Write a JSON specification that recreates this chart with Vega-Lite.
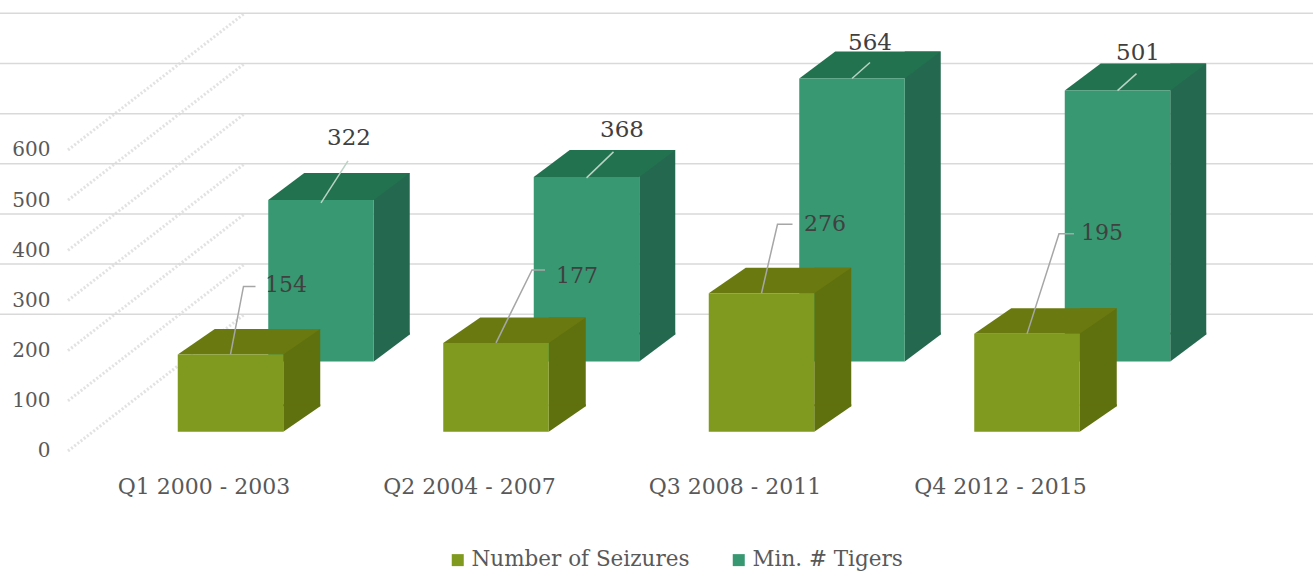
{
"$schema":"https://vega.github.io/schema/vega-lite/v6.json",
"width":1313,"height":575,"autosize":{"type":"none"},"padding":0,"background":"#ffffff",
"config":{"view":{"stroke":null},"font":"DejaVu Serif"},
"datasets":{
"rows":[
{"quarter":"Q1 2000 - 2003","series":"Number of Seizures","value":154,"label":"154"},
{"quarter":"Q2 2004 - 2007","series":"Number of Seizures","value":177,"label":"177"},
{"quarter":"Q3 2008 - 2011","series":"Number of Seizures","value":276,"label":"276"},
{"quarter":"Q4 2012 - 2015","series":"Number of Seizures","value":195,"label":"195"},
{"quarter":"Q1 2000 - 2003","series":"Min. # Tigers","value":322,"label":"322"},
{"quarter":"Q2 2004 - 2007","series":"Min. # Tigers","value":368,"label":"368"},
{"quarter":"Q3 2008 - 2011","series":"Min. # Tigers","value":564,"label":"564"},
{"quarter":"Q4 2012 - 2015","series":"Min. # Tigers","value":540,"label":"501"}
],
"ticks":[{"tick":0},{"tick":100},{"tick":200},{"tick":300},{"tick":400},{"tick":500},{"tick":600}]
},
"layer":[
{"data":{"name":"ticks"},
 "mark":{"type":"point","shape":"M-588.5 0L-411.5 -137","filled":false,"size":4,"stroke":"#dcdcdc","strokeWidth":3,"strokeDash":[2,2],"opacity":0.8},
 "encoding":{"y":{"field":"tick","type":"quantitative","scale":{"domain":[-247.2,899],"range":[575,0],"zero":false,"nice":false},
   "axis":{"title":null,"orient":"left","offset":-50,"values":[0,100,200,300,400,500,600],"domain":false,"ticks":false,"grid":false,"labelPadding":0,"labelFont":"DejaVu Serif","labelFontSize":20,"labelColor":"#595959"}}}},
{"data":{"name":"ticks"},
 "mark":{"type":"rule","xOffset":246,"yOffset":-136.7,"stroke":"#d9d9d9","strokeWidth":1.5},
 "encoding":{"y":{"field":"tick","type":"quantitative","scale":{"domain":[-247.2,899],"range":[575,0],"zero":false,"nice":false},
   "axis":{"title":null,"orient":"left","offset":-50,"values":[0,100,200,300,400,500,600],"domain":false,"ticks":false,"grid":false,"labelPadding":0,"labelFont":"DejaVu Serif","labelFontSize":20,"labelColor":"#595959"}}}},
{"data":{"name":"rows"},
 "encoding":{
  "x":{"field":"quarter","type":"nominal","sort":null,"scale":{"domain":["Q1 2000 - 2003","Q2 2004 - 2007","Q3 2008 - 2011","Q4 2012 - 2015"],"range":[71.25,1133.25],"paddingInner":0,"paddingOuter":0},
    "axis":{"title":null,"orient":"bottom","offset":-100,"domain":false,"ticks":false,"grid":false,"labelAngle":0,"labelBaseline":"middle","labelPadding":11,"labelFont":"DejaVu Serif","labelFontSize":22,"labelColor":"#595959"}},
  "y":{"field":"value","type":"quantitative","stack":null,"scale":{"domain":[-247.2,899],"range":[575,0],"zero":false,"nice":false},
    "axis":{"title":null,"orient":"left","offset":-50,"values":[0,100,200,300,400,500,600],"domain":false,"ticks":false,"grid":false,"labelPadding":0,"labelFont":"DejaVu Serif","labelFontSize":20,"labelColor":"#595959"}}
 },
 "layer":[
  {"transform":[{"filter":"datum.label=='564'"}],"mark":{"type":"text","dx":135,"dy":-125,"font":"DejaVu Serif","fontSize":23,"fill":"#404040","baseline":"middle"},"encoding":{"text":{"field":"label"}}},
  {"transform":[{"filter":"datum.label=='501'"}],"mark":{"type":"text","dx":137.5,"dy":-127,"font":"DejaVu Serif","fontSize":23,"fill":"#404040","baseline":"middle"},"encoding":{"text":{"field":"label"}}},

  {"transform":[{"filter":"datum.series=='Min. # Tigers'"}],"mark":{"type":"bar","width":36,"xOffset":187.75,"yOffset":-116.5,"y2Offset":-116.5,"fill":"#24694f"},"encoding":{"y2":{"datum":0}}},
  {"transform":[{"filter":"datum.series=='Min. # Tigers'"}],"mark":{"type":"point","shape":"M52.75 0L88.75 -27L88.75 -29L52.75 -29Z","filled":true,"size":4,"opacity":1,"strokeWidth":0,"fill":"#24694f","xOffset":117,"yOffset":-89.5},"encoding":{"y":{"datum":0,"title":null,"axis":{"title":null,"orient":"left","offset":-50,"values":[0,100,200,300,400,500,600],"domain":false,"ticks":false,"grid":false,"labelPadding":0,"labelFont":"DejaVu Serif","labelFontSize":20,"labelColor":"#595959"}}}},
  {"transform":[{"filter":"datum.series=='Min. # Tigers'"}],"mark":{"type":"point","shape":"M-52.75 0L-16.75 -27L88.75 -27L52.75 0Z","filled":true,"size":4,"opacity":1,"strokeWidth":0,"fill":"#22724f","xOffset":117,"yOffset":-89.5}},
  {"transform":[{"filter":"datum.series=='Min. # Tigers'"}],"mark":{"type":"bar","width":105.5,"xOffset":117,"yOffset":-89.5,"y2Offset":-89.5},
   "encoding":{"y2":{"datum":0},"color":{"field":"series","type":"nominal","sort":null,"scale":{"domain":["Number of Seizures","Min. # Tigers"],"range":["#7f9a1e","#389872"]},
     "legend":{"title":null,"orient":"none","legendX":447,"legendY":549,"direction":"horizontal","symbolType":"square","symbolSize":144,"symbolOpacity":1,"labelFont":"DejaVu Serif","labelFontSize":21.5,"labelColor":"#595959","labelOffset":3,"labelLimit":400,"columnPadding":38}}}},
  {"transform":[{"filter":"datum.series=='Min. # Tigers'"}],"mark":{"type":"point","filled":false,"size":4,"opacity":1,"stroke":"#b9d3c4","strokeWidth":1.5,"xOffset":117,"yOffset":-89.5},
   "encoding":{"shape":{"field":"label","type":"nominal","legend":null,"scale":{"domain":["154","177","276","195","322","368","564","501"],"range":["M0 0L13 -68L25 -68","M0 0L36 -73L49 -73","M0 0L16 -69L31 -69","M0 0L32 -100L47 -100","M0 3L27 -39","M0 1L27 -25","M0 0L18 -16","M0 0L19 -17"]}}}},

  {"transform":[{"filter":"datum.series=='Number of Seizures'"}],"mark":{"type":"bar","width":37,"xOffset":97.75,"yOffset":-44.8,"y2Offset":-44.8,"fill":"#5f710e"},"encoding":{"y2":{"datum":0}}},
  {"transform":[{"filter":"datum.series=='Number of Seizures'"}],"mark":{"type":"point","shape":"M52.75 0L89.75 -25.5L89.75 -27.5L52.75 -27.5Z","filled":true,"size":4,"opacity":1,"strokeWidth":0,"fill":"#5f710e","xOffset":26.5,"yOffset":-19.3},"encoding":{"y":{"datum":0,"title":null,"axis":{"title":null,"orient":"left","offset":-50,"values":[0,100,200,300,400,500,600],"domain":false,"ticks":false,"grid":false,"labelPadding":0,"labelFont":"DejaVu Serif","labelFontSize":20,"labelColor":"#595959"}}}},
  {"transform":[{"filter":"datum.series=='Number of Seizures'"}],"mark":{"type":"point","shape":"M-52.75 0L-15.75 -25.5L89.75 -25.5L52.75 0Z","filled":true,"size":4,"opacity":1,"strokeWidth":0,"fill":"#6b7a10","xOffset":26.5,"yOffset":-19.3}},
  {"transform":[{"filter":"datum.series=='Number of Seizures'"}],"mark":{"type":"bar","width":105.5,"xOffset":26.5,"yOffset":-19.3,"y2Offset":-19.3},
   "encoding":{"y2":{"datum":0},"color":{"field":"series","type":"nominal","sort":null,"scale":{"domain":["Number of Seizures","Min. # Tigers"],"range":["#7f9a1e","#389872"]}}}},
  {"transform":[{"filter":"datum.series=='Number of Seizures'"}],"mark":{"type":"point","filled":false,"size":4,"opacity":1,"stroke":"#a6a6a6","strokeWidth":1.5,"xOffset":26.5,"yOffset":-19.3},
   "encoding":{"shape":{"field":"label","type":"nominal","legend":null,"scale":{"domain":["154","177","276","195","322","368","564","501"],"range":["M0 0L13 -68L25 -68","M0 0L36 -73L49 -73","M0 0L16 -69L31 -69","M0 0L32 -100L47 -100","M0 3L27 -39","M0 1L27 -25","M0 0L18 -16","M0 0L19 -17"]}}}},

  {"transform":[{"filter":"datum.label=='154'"}],"mark":{"type":"text","dx":82,"dy":-88.7,"font":"DejaVu Serif","fontSize":22,"fill":"#404040","baseline":"middle"},"encoding":{"text":{"field":"label"}}},
  {"transform":[{"filter":"datum.label=='177'"}],"mark":{"type":"text","dx":107.5,"dy":-86.2,"font":"DejaVu Serif","fontSize":22,"fill":"#404040","baseline":"middle"},"encoding":{"text":{"field":"label"}}},
  {"transform":[{"filter":"datum.label=='276'"}],"mark":{"type":"text","dx":90,"dy":-88.5,"font":"DejaVu Serif","fontSize":22,"fill":"#404040","baseline":"middle"},"encoding":{"text":{"field":"label"}}},
  {"transform":[{"filter":"datum.label=='195'"}],"mark":{"type":"text","dx":101.5,"dy":-120.2,"font":"DejaVu Serif","fontSize":22,"fill":"#404040","baseline":"middle"},"encoding":{"text":{"field":"label"}}},
  {"transform":[{"filter":"datum.label=='322'"}],"mark":{"type":"text","dx":145,"dy":-151.5,"font":"DejaVu Serif","fontSize":23,"fill":"#404040","baseline":"middle"},"encoding":{"text":{"field":"label"}}},
  {"transform":[{"filter":"datum.label=='368'"}],"mark":{"type":"text","dx":152.5,"dy":-136.4,"font":"DejaVu Serif","fontSize":23,"fill":"#404040","baseline":"middle"},"encoding":{"text":{"field":"label"}}}
 ]}
]
}
